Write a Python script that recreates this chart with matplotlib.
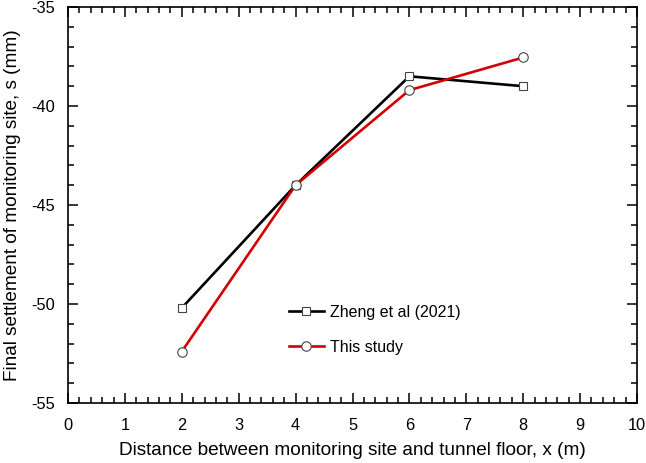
import matplotlib
matplotlib.use("Agg")
import matplotlib.pyplot as plt
from matplotlib.ticker import MultipleLocator

plt.rcParams['font.family'] = ['Liberation Sans', 'DejaVu Sans']
plt.rcParams['axes.unicode_minus'] = False

# data
x_vals = [2, 4, 6, 8]
zheng = [-50.2, -44.0, -38.5, -39.0]
this_study = [-52.4, -44.0, -39.2, -37.55]

fig = plt.figure(figsize=(6.46, 4.63), dpi=100)
ax = fig.add_axes([68 / 646, 1 - 403 / 463, (637 - 68) / 646, (403 - 7) / 463])

ax.plot(x_vals, zheng, color='black', lw=1.9, marker='s', ms=5.6,
        mfc='white', mec='#444444', mew=0.8, label='Zheng et al (2021)')
ax.plot(x_vals, this_study, color='#d40000', lw=1.9, marker='o', ms=6.8,
        mfc='white', mec='#444444', mew=0.8, label='This study')

ax.set_xlim(0, 10)
ax.set_ylim(-55, -35)
ax.xaxis.set_major_locator(MultipleLocator(1))
ax.xaxis.set_minor_locator(MultipleLocator(0.2))
ax.yaxis.set_major_locator(MultipleLocator(5))
ax.yaxis.set_minor_locator(MultipleLocator(1))
ax.tick_params(which='both', direction='in', top=True, right=True, labelsize=11.8, width=1.1)
ax.tick_params(which='major', length=7)
ax.tick_params(which='minor', length=4)
ax.tick_params(axis='x', which='major', pad=11)
ax.tick_params(axis='y', which='major', pad=9)
for s in ax.spines.values():
    s.set_linewidth(1.2)

ax.set_xlabel('Distance between monitoring site and tunnel floor, x (m)', fontsize=13.7, labelpad=6)
ax.set_ylabel('Final settlement of monitoring site, s (mm)', fontsize=13.7, labelpad=8)

ax.legend(loc='upper left', bbox_to_anchor=(0.388, 0.248), borderaxespad=0, borderpad=0,
          frameon=False, fontsize=11.5, handlelength=2.2, handletextpad=0.35,
          labelspacing=1.25)

fig.savefig('out.png', dpi=100)
